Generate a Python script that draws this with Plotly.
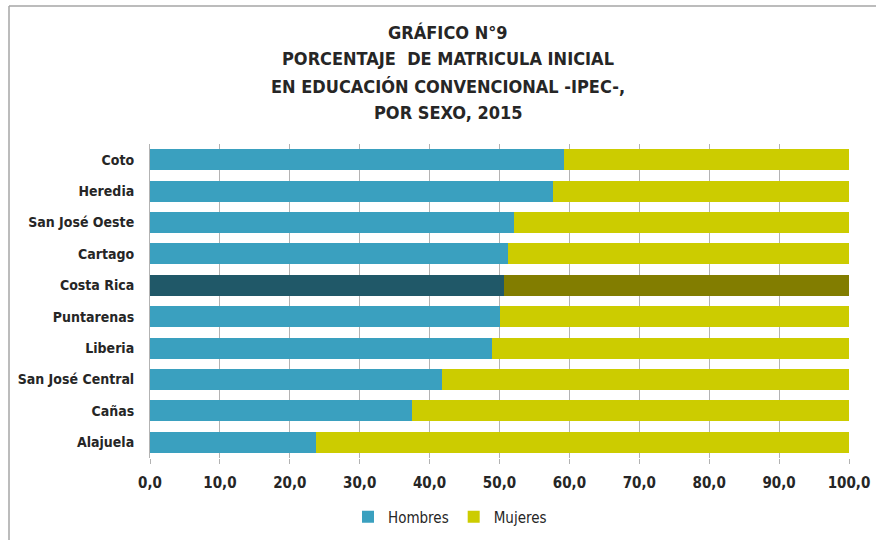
import plotly.graph_objects as go

categories = ["Coto", "Heredia", "San José Oeste", "Cartago", "Costa Rica",
              "Puntarenas", "Liberia", "San José Central", "Cañas", "Alajuela"]
hombres = [59.2, 57.6, 52.1, 51.2, 50.7, 50.1, 48.9, 41.8, 37.5, 23.8]
mujeres = [40.8, 42.4, 47.9, 48.8, 49.3, 49.9, 51.1, 58.2, 62.5, 76.2]
tick_vals = [0, 10, 20, 30, 40, 50, 60, 70, 80, 90, 100]
tick_text = ["0,0", "10,0", "20,0", "30,0", "40,0", "50,0", "60,0", "70,0", "80,0", "90,0", "100,0"]
title_lines = ["GRÁFICO N°9", "PORCENTAJE  DE MATRICULA INICIAL",
               "EN EDUCACIÓN CONVENCIONAL -IPEC-,", "POR SEXO, 2015"]

highlight = "Costa Rica"
col_h = ["#205868" if c == highlight else "#3aa0bf" for c in categories]
col_m = ["#827d00" if c == highlight else "#cccc00" for c in categories]

FONT = "Liberation Sans Narrow, Arial Narrow, DejaVu Sans Condensed, sans-serif"

fig = go.Figure()
fig.add_trace(go.Bar(y=categories, x=hombres, name="Hombres", orientation="h",
                     marker=dict(color=col_h, line=dict(width=0))))
fig.add_trace(go.Bar(y=categories, x=mujeres, name="Mujeres", orientation="h",
                     marker=dict(color=col_m, line=dict(width=0))))

L, R, T, B = 150, 27, 144, 82
W, H = 876, 540
pw, ph = W - L - R, H - T - B

def px(x):
    return (x - L) / pw

def py(y):
    return (H - B - y) / ph

fig.update_layout(
    width=W, height=H, barmode="stack", bargap=0.33,
    margin=dict(l=L, r=R, t=T, b=B, pad=0, autoexpand=False),
    paper_bgcolor="white", plot_bgcolor="white",
    font=dict(family=FONT, color="#262626", size=14),
    showlegend=True,
    legend=dict(orientation="h", x=px(450), y=py(517), xanchor="center", yanchor="middle",
                font=dict(size=15, family=FONT), itemwidth=30, traceorder="normal"),
    xaxis=dict(range=[0, 100], tickvals=tick_vals, ticktext=tick_text,
               showgrid=True, gridcolor="#b3b3b3", gridwidth=1,
               ticks="outside", ticklen=5, tickcolor="#b3b3b3", ticklabelstandoff=6,
               tickfont=dict(size=15, family=FONT, color="#262626", weight="bold"),
               zeroline=False, showline=False, fixedrange=True, automargin=False),
    yaxis=dict(autorange="reversed", showline=True, linecolor="#b3b3b3", linewidth=1,
               ticks="", ticklabelstandoff=12, automargin=False,
               tickfont=dict(size=14, family=FONT, color="#262626", weight="bold"),
               showgrid=False, fixedrange=True),
)

title_y = [33, 59, 86, 113]
for txt, yy in zip(title_lines, title_y):
    fig.add_annotation(text="<b>" + txt + "</b>", x=px(448), y=py(yy), xref="paper", yref="paper",
                       showarrow=False, xanchor="center", yanchor="middle",
                       font=dict(size=18, family=FONT, color="#262626"))

# outer frame (top and left edges visible)
fig.add_shape(type="line", xref="paper", yref="paper", x0=px(9), x1=px(876), y0=py(6), y1=py(6),
              line=dict(color="#a6a6a6", width=1.5))
fig.add_shape(type="line", xref="paper", yref="paper", x0=px(9), x1=px(9), y0=py(6), y1=py(540),
              line=dict(color="#a6a6a6", width=1.5))

fig.write_html("out.html", config={"displayModeBar": False},
               post_script="document.body.style.margin='0';document.body.style.overflow='hidden';")
